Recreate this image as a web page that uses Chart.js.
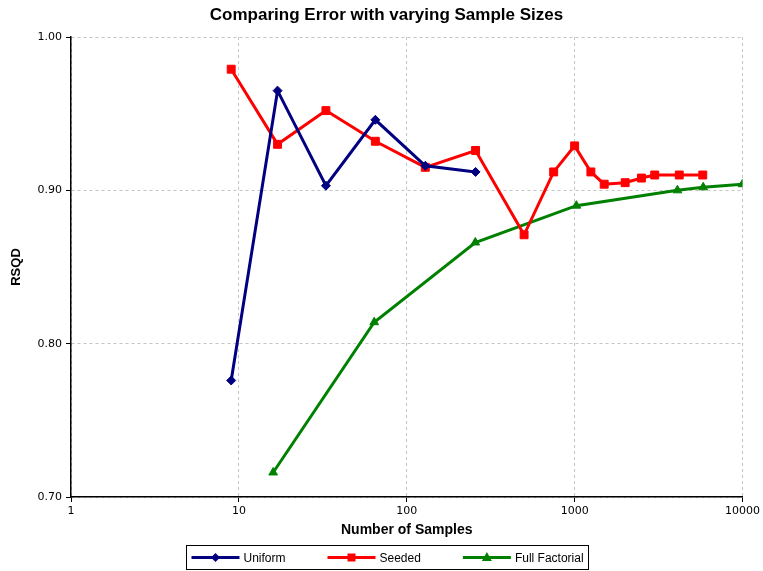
<!DOCTYPE html>
<html>
<head>
<meta charset="utf-8">
<script src="https://cdn.jsdelivr.net/npm/chart.js@4.4.1/dist/chart.umd.min.js"></script>
<style>
  html, body { margin: 0; padding: 0; background: #fff; }
  #wrap { width: 763px; height: 571px; }
</style>
</head>
<body>
<div id="wrap"><canvas id="errChart" width="763" height="571"></canvas></div>
<script>
const chartTitle = "Comparing Error with varying Sample Sizes";

// tick labels
const xTicks = [1, 10, 100, 1000, 10000];
const yTicks = [0.70, 0.80, 0.90, 1.00];

// Uniform
const uniformN = [9, 17, 33, 65, 129, 257];
const uniformRsqd = [0.776, 0.965, 0.903, 0.946, 0.916, 0.912];

// Seeded
const seededN = [9, 17, 33, 65, 129, 257, 500, 750, 1000, 1250, 1500, 2000, 2500, 3000, 4200, 5800];
const seededRsqd = [0.979, 0.930, 0.952, 0.932, 0.915, 0.926, 0.871, 0.912, 0.929, 0.912, 0.904, 0.905, 0.908, 0.910, 0.910, 0.910];

// Full Factorial
const factorialN = [16, 64, 256, 1024, 4096, 5832, 10000];
const factorialRsqd = [0.716, 0.814, 0.866, 0.890, 0.900, 0.902, 0.904];

const toPoints = (xs, ys) => xs.map((x, i) => ({ x: x, y: ys[i] }));

// draw one marker for the legend
function drawMarker(ctx, style, x, y, color) {
    ctx.fillStyle = color;
    ctx.beginPath();
    if (style === "rectRot") {
        ctx.moveTo(x, y - 4.5); ctx.lineTo(x + 4.5, y); ctx.lineTo(x, y + 4.5); ctx.lineTo(x - 4.5, y);
    } else if (style === "rect") {
        ctx.rect(x - 4, y - 4, 8, 8);
    } else {
        ctx.moveTo(x, y - 5.5); ctx.lineTo(x + 5, y + 3.5); ctx.lineTo(x - 5, y + 3.5);
    }
    ctx.closePath();
    ctx.fill();
}

// title on top, boxed legend under the x axis title
const titleAndLegend = {
    id: "titleAndLegend",
    afterDraw(chart) {
        const ctx = chart.ctx;
        ctx.save();
        ctx.fillStyle = "#000";
        ctx.font = 'bold 17px "Liberation Sans", Arial, sans-serif';
        ctx.textAlign = "center";
        ctx.textBaseline = "middle";
        ctx.fillText(chartTitle, 386.5, 15.5);

        ctx.font = '12px "Liberation Sans", Arial, sans-serif';
        const symW = 48, gap = 4, spacing = 42, pad = 5;
        const items = chart.data.datasets.map(ds => ({ ds: ds, w: symW + gap + ctx.measureText(ds.label).width }));
        const total = items.reduce((s, it) => s + it.w, 0) + spacing * (items.length - 1) + pad * 2;
        const left = Math.round(chart.width / 2 + 6 - total / 2) + 0.5;
        const top = 545.5, h = 24;
        ctx.strokeStyle = "#000";
        ctx.lineWidth = 1;
        ctx.strokeRect(left, top, Math.round(total), h);
        let x = left + pad;
        const cy = top + h / 2;
        items.forEach(it => {
            ctx.strokeStyle = it.ds.borderColor;
            ctx.lineWidth = 3;
            ctx.beginPath();
            ctx.moveTo(x, cy);
            ctx.lineTo(x + symW, cy);
            ctx.stroke();
            drawMarker(ctx, it.ds.pointStyle, x + symW / 2, cy, it.ds.borderColor);
            ctx.fillStyle = "#000";
            ctx.textBaseline = "middle";
            ctx.textAlign = "left";
            ctx.fillText(it.ds.label, x + symW + gap, cy + 1);
            x += it.w + spacing;
        });
        ctx.restore();
    }
};

const gridOpts = {
    color: "#c4c4c4",
    borderDash: [3, 3],
    tickColor: "#000",
    tickLength: 5,
    tickBorderDash: []
};

const chart = new Chart(document.getElementById("errChart").getContext("2d"), {
    type: "line",
    data: {
        datasets: [
            {
                label: "Uniform", data: toPoints(uniformN, uniformRsqd),
                borderColor: "#000080", backgroundColor: "#000080", borderWidth: 3,
                pointStyle: "rectRot", pointRadius: 4.5, pointBorderWidth: 1, tension: 0
            },
            {
                label: "Seeded", data: toPoints(seededN, seededRsqd),
                borderColor: "#ff0000", backgroundColor: "#ff0000", borderWidth: 3,
                pointStyle: "rect", pointRadius: 5.6, pointBorderWidth: 1, tension: 0
            },
            {
                label: "Full Factorial", data: toPoints(factorialN, factorialRsqd),
                borderColor: "#008000", backgroundColor: "#008000", borderWidth: 3,
                pointStyle: "triangle", pointRadius: 5, pointBorderWidth: 1, tension: 0
            }
        ]
    },
    options: {
        responsive: false,
        animation: false,
        devicePixelRatio: 1,
        layout: { padding: { left: 0, right: 20, top: 37, bottom: 26 } },
        plugins: {
            legend: { display: false },
            tooltip: { enabled: false },
            title: { display: false }
        },
        scales: {
            x: {
                type: "logarithmic",
                min: 1, max: 10000,
                afterBuildTicks: s => { s.ticks = xTicks.map(v => ({ value: v })); },
                afterFit: s => { s.height = 48; },
                ticks: {
                    color: "#000", padding: 3, maxRotation: 0, autoSkip: false,
                    font: { family: '"DejaVu Sans", sans-serif', size: 11 },
                    callback: v => String(v)
                },
                grid: gridOpts,
                border: { color: "#000", width: 1.5, dash: [3, 3] },
                title: {
                    display: true, text: "Number of Samples", color: "#000",
                    font: { family: '"Liberation Sans", Arial, sans-serif', size: 14, weight: "bold" },
                    padding: { top: 0, bottom: 6 }
                }
            },
            y: {
                type: "linear",
                min: 0.7, max: 1.0,
                afterBuildTicks: s => { s.ticks = yTicks.map(v => ({ value: v })); },
                afterFit: s => { s.width = 71; },
                ticks: {
                    color: "#000", padding: 4,
                    font: { family: '"DejaVu Sans", sans-serif', size: 11 },
                    callback: v => Number(v).toFixed(2)
                },
                grid: gridOpts,
                border: { color: "#000", width: 1.5, dash: [3, 3] },
                title: {
                    display: true, text: "RSQD", color: "#000",
                    font: { family: '"Liberation Sans", Arial, sans-serif', size: 13, weight: "bold" },
                    padding: { top: 9, bottom: 0 }
                }
            }
        }
    },
    plugins: [titleAndLegend]
});
</script>
</body>
</html>
